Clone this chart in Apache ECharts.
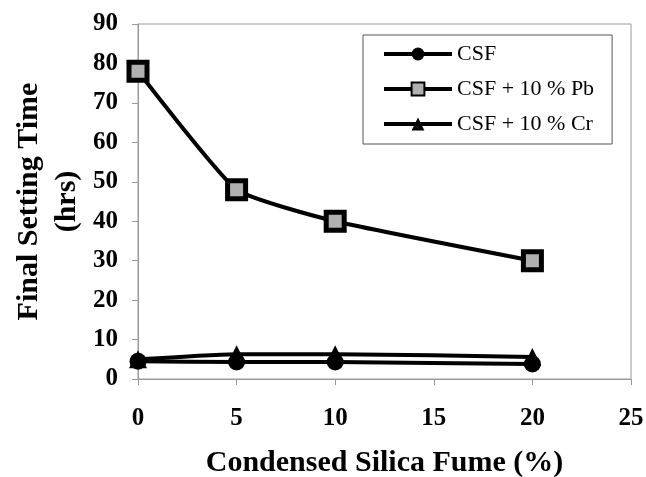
<!DOCTYPE html>
<html>
<head>
<meta charset="utf-8">
<script src="https://cdn.jsdelivr.net/npm/echarts@6/dist/echarts.min.js"></script>
<style>
  html, body { margin: 0; padding: 0; background: #fff; }
  #main { width: 646px; height: 477px; }
</style>
</head>
<body>
<div id="main"></div>
<script>
// 硅灰掺量 (%)
const silicaFume = [0, 5, 10, 20];
// 终凝时间 (hrs)
const csf = [4.5, 4.3, 4.3, 3.8];
const csfPb = [78, 48, 40, 30];
const csfCr = [5.0, 6.3, 6.3, 5.6];
const seriesNames = ['CSF', 'CSF + 10 % Pb', 'CSF + 10 % Cr'];

const serif = '"Liberation Serif", "Times New Roman", serif';

function pairs (ys) {
  return silicaFume.map((x, i) => [x, ys[i]]);
}

const chart = echarts.init(document.getElementById('main'));

const option = {
  animation: false,
  grid: {
    left: 138,
    top: 24,
    width: 493,
    height: 355,
    outerBoundsMode: 'none',
    show: true,
    borderColor: '#9a9a9a',
    borderWidth: 1,
  },
  legend: {
    orient: 'vertical',
    left: 363,
    top: 35,
    itemWidth: 68,
    itemHeight: 16,
    itemGap: 13,
    padding: [8, 18, 9, 19],
    borderColor: '#555',
    borderWidth: 1,
    backgroundColor: '#fff',
    lineStyle: { width: 4, color: '#000' },
    textStyle: {
      fontFamily: serif,
      fontSize: 22,
      lineHeight: 22,
      color: '#000',
    },
    data: seriesNames,
  },
  xAxis: {
    type: 'value',
    min: 0,
    max: 25,
    interval: 5,
    name: 'Condensed Silica Fume (%)',
    nameLocation: 'middle',
    nameGap: 69,
    nameMoveOverlap: false,
    nameTextStyle: {
      fontFamily: serif,
      fontWeight: 'bold',
      fontSize: 30,
      color: '#000',
    },
    axisLine: { lineStyle: { color: '#9a9a9a', width: 1 } },
    axisTick: { show: true, length: 6, lineStyle: { color: '#9a9a9a' } },
    axisLabel: {
      margin: 27,
      fontFamily: serif,
      fontWeight: 'bold',
      fontSize: 25,
      color: '#000',
    },
    splitLine: { show: false },
  },
  yAxis: {
    type: 'value',
    min: 0,
    max: 90,
    interval: 10,
    name: 'Final Setting Time\n(hrs)',
    nameLocation: 'middle',
    nameRotate: 90,
    nameGap: 52,
    nameMoveOverlap: false,
    nameTextStyle: {
      fontFamily: serif,
      fontWeight: 'bold',
      fontSize: 30,
      lineHeight: 38,
      color: '#000',
    },
    axisLine: { show: true, lineStyle: { color: '#9a9a9a', width: 1 } },
    axisTick: { show: true, length: 6, lineStyle: { color: '#9a9a9a' } },
    axisLabel: {
      margin: 20,
      fontFamily: serif,
      fontWeight: 'bold',
      fontSize: 25,
      color: '#000',
    },
    splitLine: { show: false },
  },
  series: [
    {
      name: seriesNames[0],
      type: 'line',
      smooth: 0.15,
      symbol: 'circle',
      symbolSize: 17,
      itemStyle: { color: '#000' },
      lineStyle: { color: '#000', width: 4 },
      data: pairs(csf),
      z: 3,
    },
    {
      name: seriesNames[1],
      type: 'line',
      smooth: 0.15,
      symbol: 'rect',
      symbolSize: 18,
      itemStyle: { color: '#b0b0b0', borderColor: '#000', borderWidth: 5 },
      lineStyle: { color: '#000', width: 4 },
      data: pairs(csfPb),
      z: 2,
    },
    {
      name: seriesNames[2],
      type: 'line',
      smooth: 0.15,
      symbol: 'triangle',
      symbolSize: 18,
      itemStyle: { color: '#000' },
      lineStyle: { color: '#000', width: 4 },
      data: pairs(csfCr),
      z: 4,
    },
  ],
};

chart.setOption(option);
</script>
</body>
</html>
